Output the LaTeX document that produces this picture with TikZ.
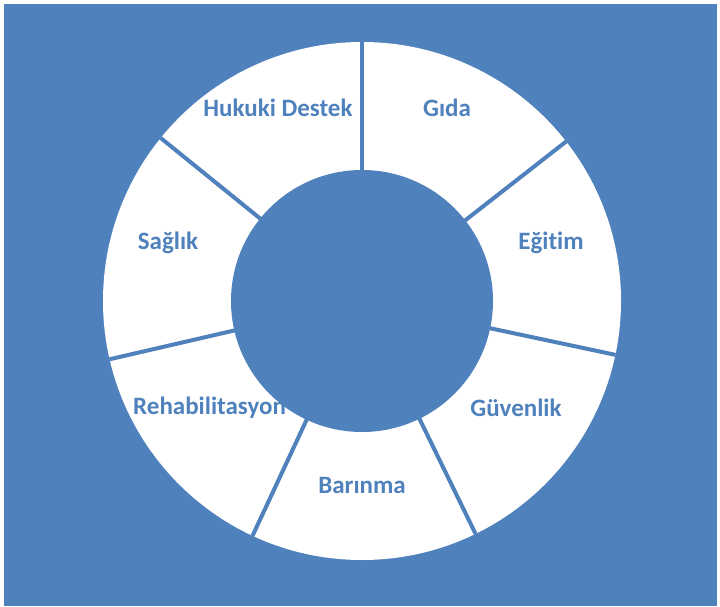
\documentclass[tikz,border=0pt]{standalone}
\usepackage{fontspec}
\setmainfont{Carlito}[Ligatures=NoCommon]
\definecolor{offblue}{HTML}{4F81BD}
\begin{document}
\begin{tikzpicture}[x=1pt,y=1pt,
  lbl/.style={text=offblue,font=\fontsize{25}{30}\selectfont\bfseries,inner sep=0pt},
  sep/.style={draw=offblue,line width=4pt}]
\useasboundingbox (0,0) rectangle (720,606);
\fill[offblue] (4,0) rectangle (717,602);
\node[circle,fill=white,minimum size=518pt,inner sep=0pt] (outer) at (362,305) {};
\node[lbl] (hukuki) at (278,498) {Hukuki Destek};
\node[lbl] (gida) at (447,498) {Gıda};
\node[lbl] (egitim) at (551,363) {Eğitim};
\node[lbl] (guvenlik) at (516,198) {Güvenlik};
\node[lbl] (barinma) at (362,121) {Barınma};
\node[lbl,anchor=west] (rehab) at (133,198) {Rehabilitasyon};
\node[lbl] (saglik) at (168,363) {Sağlık};
\coordinate (c) at (outer.center);
\foreach \a in {90,38.571,-12.857,-64.286,-115.714,-167.143,141.429}
  \draw[sep] (c) -- (outer.\a);
\node[circle,fill=offblue,minimum size=262pt,inner sep=0pt] (inner) at (c) {};
\end{tikzpicture}
\end{document}
